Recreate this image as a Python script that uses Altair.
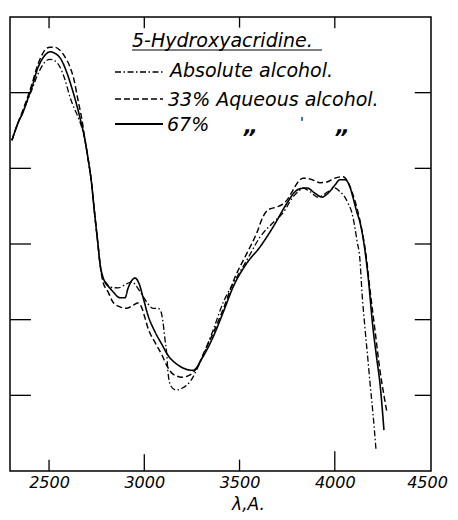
import altair as alt
import pandas as pd

# ---- data (wavelength in Angstrom, absorption in axis units 0..6) ----
wl_abs = [2305, 2337, 2363, 2390, 2410, 2437, 2463, 2484, 2505, 2531,
          2557, 2584, 2610, 2636, 2652, 2673, 2689, 2704, 2720, 2741,
          2757, 2767, 2788, 2820, 2862, 2904, 2935, 2962, 2988, 3019,
          3046, 3072, 3088, 3098, 3109, 3119, 3124, 3140, 3166, 3203,
          3240, 3292, 3361, 3413, 3476, 3539, 3607, 3675, 3728, 3780,
          3807, 3833, 3870, 3912, 3964, 4001, 4027, 4053, 4069, 4090,
          4106, 4116, 4132, 4143, 4158, 4174, 4185, 4200, 4216]
ab_abs = [4.37, 4.60, 4.74, 4.92, 5.04, 5.22, 5.35, 5.42, 5.44, 5.42,
          5.34, 5.17, 4.94, 4.77, 4.68, 4.53, 4.37, 4.14, 3.87, 3.36,
          2.99, 2.75, 2.52, 2.43, 2.42, 2.47, 2.50, 2.43, 2.33, 2.21,
          2.15, 2.15, 2.10, 1.97, 1.73, 1.51, 1.31, 1.12, 1.07, 1.10,
          1.18, 1.43, 1.86, 2.22, 2.52, 2.79, 3.09, 3.28, 3.41, 3.62,
          3.69, 3.74, 3.69, 3.62, 3.69, 3.74, 3.69, 3.62, 3.54, 3.41,
          3.21, 3.05, 2.79, 2.35, 1.90, 1.47, 1.16, 0.77, 0.29]

wl_33 = [2305, 2337, 2363, 2390, 2410, 2437, 2463, 2484, 2505, 2531,
         2557, 2584, 2610, 2631, 2652, 2673, 2689, 2704, 2720, 2741,
         2757, 2767, 2783, 2809, 2836, 2872, 2909, 2941, 2967, 2988,
         3004, 3019, 3056, 3093, 3119, 3151, 3198, 3240, 3277, 3319,
         3361, 3413, 3476, 3539, 3591, 3623, 3649, 3696, 3723, 3749,
         3780, 3807, 3833, 3881, 3922, 3959, 4001, 4043, 4069, 4090,
         4116, 4137, 4164, 4185, 4211, 4237, 4258, 4274]
ab_33 = [4.37, 4.60, 4.77, 4.96, 5.11, 5.34, 5.50, 5.58, 5.60, 5.60,
         5.56, 5.47, 5.34, 5.17, 4.90, 4.64, 4.37, 4.14, 3.87, 3.36,
         2.99, 2.75, 2.50, 2.37, 2.23, 2.17, 2.15, 2.19, 2.22, 2.15,
         2.02, 1.89, 1.70, 1.53, 1.39, 1.28, 1.24, 1.27, 1.37, 1.60,
         1.82, 2.13, 2.56, 2.88, 3.15, 3.36, 3.45, 3.49, 3.52, 3.58,
         3.71, 3.82, 3.87, 3.85, 3.81, 3.82, 3.87, 3.89, 3.82, 3.69,
         3.48, 3.25, 2.85, 2.39, 1.86, 1.33, 1.00, 0.77]

wl_67 = [2305, 2337, 2363, 2390, 2410, 2437, 2463, 2484, 2505, 2531,
         2563, 2594, 2620, 2647, 2668, 2689, 2704, 2720, 2741, 2757,
         2767, 2783, 2804, 2836, 2872, 2899, 2914, 2935, 2951, 2972,
         2993, 3019, 3056, 3093, 3124, 3172, 3214, 3256, 3308, 3361,
         3413, 3466, 3539, 3607, 3675, 3749, 3791, 3817, 3854, 3896,
         3933, 3964, 4001, 4027, 4053, 4080, 4095, 4116, 4132, 4158,
         4174, 4200, 4221, 4237, 4258]
ab_67 = [4.37, 4.60, 4.74, 4.93, 5.07, 5.30, 5.44, 5.51, 5.54, 5.52,
         5.44, 5.26, 5.06, 4.82, 4.61, 4.37, 4.14, 3.87, 3.36, 2.99,
         2.75, 2.56, 2.47, 2.37, 2.29, 2.29, 2.41, 2.52, 2.55, 2.48,
         2.30, 2.06, 1.84, 1.67, 1.53, 1.41, 1.35, 1.33, 1.51, 1.77,
         2.09, 2.43, 2.75, 2.96, 3.22, 3.54, 3.69, 3.73, 3.74, 3.67,
         3.62, 3.67, 3.78, 3.85, 3.85, 3.75, 3.62, 3.42, 3.29, 2.92,
         2.59, 1.90, 1.47, 1.16, 0.54]

series_names = ["Absolute alcohol.", "33% Aqueous alcohol.", "67%"]
title_text = "5-Hydroxyacridine."
x_title = "λ,A."
x_tick_labels = [2500, 3000, 3500, 4000, 4500]
inner_x_ticks = [2500, 3000, 3500, 4000]
inner_y_ticks = [1, 2, 3, 4, 5]

X_DOMAIN = [2295, 4505]
Y_DOMAIN = [0, 6]
W, H = 421, 454
FONT = "DejaVu Sans"

rows = []
for name, xs, ys in zip(series_names, [wl_abs, wl_33, wl_67], [ab_abs, ab_33, ab_67]):
    for a, b in zip(xs, ys):
        rows.append({"series": name, "wl": a, "ab": b})
df = pd.DataFrame(rows)

xs = alt.Scale(domain=X_DOMAIN, nice=False, zero=False)
ys = alt.Scale(domain=Y_DOMAIN, nice=False, zero=False)

dash_range = [[6, 2.5, 1.5, 2.5], [6, 3], [1, 0]]
width_range = [1.3, 1.6, 2.2]

x_axis = alt.Axis(
    values=x_tick_labels, format="d", ticks=False, domain=False, grid=False,
    labelFont=FONT, labelFontStyle="italic", labelFontSize=16, labelColor="black",
    labelPadding=3, labelFlush=False,
    labelOffset={"condition": {"test": "datum.value == 4500", "value": -3}, "value": 0},
    title=x_title, titleFont=FONT, titleFontStyle="italic", titleFontWeight="normal",
    titleFontSize=17, titleColor="black", titleX=238, titleY=38,
    titleAlign="center", titleBaseline="alphabetic",
)

lines = alt.Chart(df).mark_line(interpolate="monotone", color="black").encode(
    x=alt.X("wl:Q", scale=xs, axis=x_axis),
    y=alt.Y("ab:Q", scale=ys, axis=None),
    detail="series:N",
    strokeDash=alt.StrokeDash("series:N", scale=alt.Scale(domain=series_names, range=dash_range), legend=None),
    strokeWidth=alt.StrokeWidth("series:N", scale=alt.Scale(domain=series_names, range=width_range), legend=None),
)

# inward frame ticks
bottom_len = [0.15, 0.22, 0.15, 0.26]
bt = pd.DataFrame({"x": inner_x_ticks, "y1": [0] * 4, "y2": bottom_len})
tt = pd.DataFrame({"x": inner_x_ticks, "y1": [6] * 4, "y2": [5.85, 5.85, 5.86, 5.85]})
lt = pd.DataFrame({"y": inner_y_ticks, "x1": [2295] * 5, "x2": [2405] * 5})
rt = pd.DataFrame({"y": inner_y_ticks, "x1": [4420] * 5, "x2": [4505] * 5})

bticks = alt.Chart(bt).mark_rule(color="black", strokeWidth=1.3).encode(
    x=alt.X("x:Q", scale=xs), y=alt.Y("y1:Q", scale=ys), y2="y2:Q")
tticks = alt.Chart(tt).mark_rule(color="black", strokeWidth=1.3).encode(
    x=alt.X("x:Q", scale=xs), y=alt.Y("y1:Q", scale=ys), y2="y2:Q")
lticks = alt.Chart(lt).mark_rule(color="black", strokeWidth=1.3).encode(
    y=alt.Y("y:Q", scale=ys), x=alt.X("x1:Q", scale=xs), x2="x2:Q")
rticks = alt.Chart(rt).mark_rule(color="black", strokeWidth=1.3).encode(
    y=alt.Y("y:Q", scale=ys), x=alt.X("x1:Q", scale=xs), x2="x2:Q")

# hand-drawn style legend
def txt(s, x, y, size=19, weight="normal"):
    return alt.Chart(pd.DataFrame({"t": [s]})).mark_text(
        align="left", baseline="alphabetic", font=FONT, fontStyle="italic",
        fontWeight=weight, fontSize=size, color="black").encode(
        text="t:N", x=alt.value(x), y=alt.value(y))

def sample(y, dash, w):
    return alt.Chart(pd.DataFrame({"k": [0]})).mark_rule(
        color="black", strokeDash=dash, strokeWidth=w).encode(
        x=alt.value(105), x2=alt.value(153), y=alt.value(y))

legend = [
    txt(title_text, 122, 30),
    alt.Chart(pd.DataFrame({"k": [0]})).mark_rule(color="black", strokeWidth=1).encode(
        x=alt.value(122), x2=alt.value(312), y=alt.value(33)),
    sample(55, dash_range[0], width_range[0]), txt(series_names[0], 160, 60),
    sample(82, dash_range[1], width_range[1]), txt(series_names[1], 158, 89),
    sample(107, dash_range[2], width_range[2]), txt(series_names[2], 157, 114),
    txt("\u201e", 234, 116, 22, "bold"), txt("'", 290, 110, 14), txt("\u201e", 326, 116, 22, "bold"),
]

chart = alt.layer(lines, bticks, tticks, lticks, rticks, *legend).properties(
    width=W, height=H,
    autosize=alt.AutoSizeParams(type="none"),
    padding={"left": 2, "top": 9, "right": 19, "bottom": 41},
    background="white",
).configure_view(stroke="black", strokeWidth=1.5)

chart.save("out.html", embed_options={"renderer": "svg", "actions": False})
